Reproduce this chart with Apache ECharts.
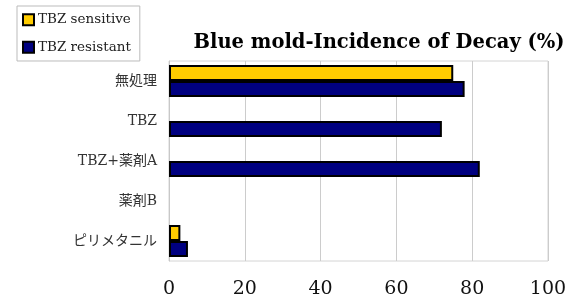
<!DOCTYPE html>
<html>
<head>
<meta charset="utf-8">
<script src="https://cdn.jsdelivr.net/npm/echarts@6/dist/echarts.min.js"></script>
<style>
html, body { margin: 0; padding: 0; background: #fff; }
#main { width: 577px; height: 306px; }
</style>
</head>
<body>
<div id="main"></div>
<script>
var categories = ['無処理', 'TBZ', 'TBZ+薬剤A', '薬剤B', 'ピリメタニル'];
var sensitive = [75, null, null, null, 3];
var resistant = [78, 72, 82, null, 5];
var xTicks = [0, 20, 40, 60, 80, 100];

var serif = '"DejaVu Serif", "Noto Sans CJK JP", serif';
var chart = echarts.init(document.getElementById('main'));

var option = {
  animation: false,
  title: {
    text: 'Blue mold-Incidence of Decay (%)',
    left: 374,
    top: 28,
    textAlign: 'center',
    textStyle: { fontFamily: '"DejaVu Serif", serif', fontWeight: 'bold', fontSize: 19.5, color: '#000' }
  },
  legend: {
    left: 17,
    top: 6,
    orient: 'vertical',
    padding: [7, 9, 7, 5],
    itemGap: 14,
    itemWidth: 11,
    itemHeight: 11,
    icon: 'rect',
    borderColor: '#bbb',
    borderWidth: 1,
    textStyle: { fontFamily: serif, fontSize: 13.5, color: '#222', padding: [0, 0, 0, -1] },
    data: [
      { name: 'TBZ sensitive', itemStyle: { color: '#FFCC00', borderColor: '#000', borderWidth: 2 } },
      { name: 'TBZ resistant', itemStyle: { color: '#000080', borderColor: '#000', borderWidth: 2 } }
    ]
  },
  grid: { left: 169, right: 29, top: 61, bottom: 45, show: true, borderColor: '#d4d4d4', borderWidth: 1 },
  xAxis: {
    type: 'value',
    min: 0,
    max: 100,
    interval: 20,
    axisLine: { show: false },
    axisTick: { show: false },
    splitLine: { lineStyle: { color: '#cccccc', width: 1 } },
    axisLabel: { fontFamily: serif, fontSize: 19, color: '#111', margin: 19,
      formatter: function (v) { return xTicks.indexOf(v) >= 0 ? String(v) : ''; } }
  },
  yAxis: {
    type: 'category',
    inverse: true,
    data: categories,
    axisLine: { lineStyle: { color: '#c8c8c8' } },
    axisTick: { inside: true, length: 4, lineStyle: { color: '#c8c8c8' } },
    axisLabel: { fontFamily: serif, fontSize: 14, color: '#333', margin: 12 }
  },
  series: [
    {
      name: 'TBZ sensitive',
      type: 'bar',
      data: sensitive,
      barWidth: 16,
      barGap: '0%',
      itemStyle: { color: '#FFCC00', borderColor: '#000', borderWidth: 2 }
    },
    {
      name: 'TBZ resistant',
      type: 'bar',
      data: resistant,
      barWidth: 16,
      itemStyle: { color: '#000080', borderColor: '#000', borderWidth: 2 }
    }
  ]
};

chart.setOption(option);
</script>
</body>
</html>
